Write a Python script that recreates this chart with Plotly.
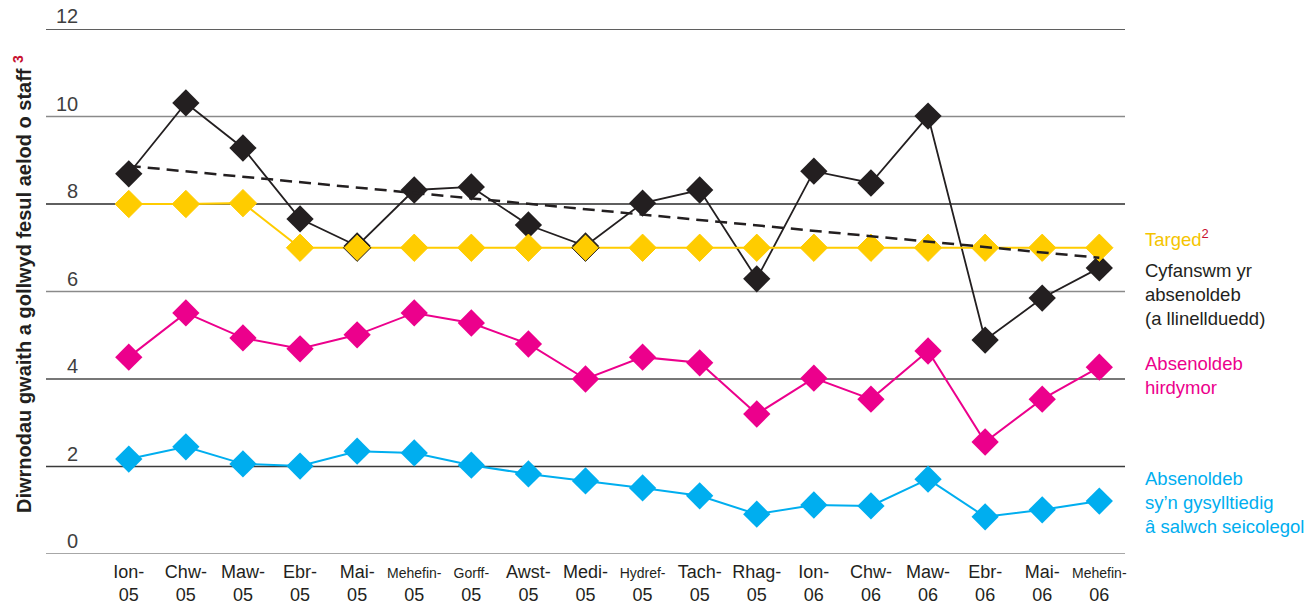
import plotly.graph_objects as go

months = ["Ion-", "Chw-", "Maw-", "Ebr-", "Mai-", "Mehefin-", "Gorff-", "Awst-", "Medi-",
          "Hydref-", "Tach-", "Rhag-", "Ion-", "Chw-", "Maw-", "Ebr-", "Mai-", "Mehefin-"]
years = ["05"] * 12 + ["06"] * 6
small_labels = {"Mehefin-", "Gorff-", "Hydref-"}

total = [8.69, 10.31, 9.28, 7.66, 7.04, 8.32, 8.39, 7.52, 7.04, 8.02, 8.32, 6.29,
         8.75, 8.48, 10.01, 4.89, 5.85, 6.54]
target = [8.0, 8.0, 8.02, 7.0, 7.0, 7.0, 7.0, 7.0, 7.0, 7.0, 7.0, 7.0,
          7.0, 7.0, 7.0, 7.0, 7.0, 7.0]
long_term = [4.50, 5.51, 4.94, 4.69, 5.01, 5.51, 5.28, 4.80, 4.00, 4.50, 4.37, 3.20,
             4.02, 3.54, 4.64, 2.56, 3.54, 4.27]
psych = [2.17, 2.45, 2.06, 2.01, 2.35, 2.31, 2.03, 1.83, 1.67, 1.51, 1.33, 0.91,
         1.12, 1.10, 1.71, 0.85, 1.01, 1.21]
trend_ends = [8.87, 6.77]

y_ticks = [0, 2, 4, 6, 8, 10, 12]
grid_colors = ["#8a8a8a", "#3a3a3a", "#4a4a4a", "#8a8a8a", "#2a2a2a", "#8a8a8a", "#2a2a2a"]

x = list(range(len(months)))
ticktext = []
for m, yv in zip(months, years):
    if m in small_labels:
        ticktext.append(f"<span style='font-size:14px'>{m}</span><br>{yv}")
    else:
        ticktext.append(f"{m}<br>{yv}")

BLACK = "#231f20"
YELLOW = "#ffcc00"
MAGENTA = "#ec008c"
CYAN = "#00aeef"
RED = "#c8102e"
FONT = "Liberation Sans"

fig = go.Figure()

fig.add_trace(go.Scatter(x=x, y=psych, mode="lines+markers",
                         line=dict(color=CYAN, width=2),
                         marker=dict(symbol="diamond", size=21, color=CYAN)))
fig.add_trace(go.Scatter(x=x, y=long_term, mode="lines+markers",
                         line=dict(color=MAGENTA, width=2),
                         marker=dict(symbol="diamond", size=21, color=MAGENTA)))
fig.add_trace(go.Scatter(x=x, y=total, mode="lines+markers",
                         line=dict(color=BLACK, width=1.8),
                         marker=dict(symbol="diamond", size=21, color=BLACK)))
outline = [BLACK if abs(t - v) < 0.1 else YELLOW for t, v in zip(target, total)]
fig.add_trace(go.Scatter(x=x, y=target, mode="lines+markers",
                         line=dict(color=YELLOW, width=2),
                         marker=dict(symbol="diamond", size=21, color=YELLOW,
                                     line=dict(color=outline, width=1))))
fig.add_trace(go.Scatter(x=[x[0], x[-1]], y=trend_ends, mode="lines",
                         line=dict(color=BLACK, width=2.5, dash="12px,7px")))

for yt, gc in zip(y_ticks, grid_colors):
    fig.add_shape(type="line", xref="paper", yref="y", x0=0, x1=1, y0=yt, y1=yt,
                  line=dict(color=gc, width=1.3), layer="below")
    fig.add_annotation(xref="paper", yref="y", x=(80 - 46) / 1079, y=yt, text=str(yt),
                       showarrow=False, xanchor="right", yanchor="bottom", yshift=0,
                       font=dict(family=FONT, size=20, color="#3f3f3f"))

fig.add_annotation(xref="paper", yref="paper", x=(22 - 46) / 1079, y=(554 - 284) / 525,
                   text=f"Diwrnodau gwaith a gollwyd fesul aelod o staff <sup><span style='color:{RED}'>3</span></sup>",
                   textangle=-90, showarrow=False, xanchor="center", yanchor="middle",
                   font=dict(family=FONT, size=20, color=BLACK, weight="bold"))

fig.add_annotation(xref="paper", yref="paper", x=1.017, y=(554 - 238) / 525,
                   text=f"Targed<sup><span style='color:{RED}'>2</span></sup>",
                   showarrow=False, xanchor="left", yanchor="middle", align="left",
                   font=dict(family=FONT, size=18.5, color="#f5c400"))
fig.add_annotation(xref="paper", yref="paper", x=1.017, y=(554 - 294) / 525,
                   text="Cyfanswm yr<br>absenoldeb<br>(a llinellduedd)",
                   showarrow=False, xanchor="left", yanchor="middle", align="left",
                   font=dict(family=FONT, size=18.5, color=BLACK))
fig.add_annotation(xref="paper", yref="paper", x=1.017, y=(554 - 375) / 525,
                   text="Absenoldeb<br>hirdymor",
                   showarrow=False, xanchor="left", yanchor="middle", align="left",
                   font=dict(family=FONT, size=18.5, color=MAGENTA))
fig.add_annotation(xref="paper", yref="paper", x=1.017, y=(554 - 502) / 525,
                   text="Absenoldeb<br>sy’n gysylltiedig<br>â salwch seicolegol",
                   showarrow=False, xanchor="left", yanchor="middle", align="left",
                   font=dict(family=FONT, size=18.5, color=CYAN))

fig.update_layout(
    width=1315, height=606,
    margin=dict(l=46, r=190, t=29, b=52),
    paper_bgcolor="white", plot_bgcolor="white",
    showlegend=False,
    xaxis=dict(range=[-1.45, 17.45], tickvals=x, ticktext=ticktext,
               showgrid=False, zeroline=False, showline=False, ticks="",
               ticklabelstandoff=5, automargin=False,
               tickfont=dict(family=FONT, size=18, color=BLACK)),
    yaxis=dict(range=[0, 12], showgrid=False, zeroline=False, showline=False,
               showticklabels=False, ticks="", automargin=False),
)

fig.write_html("out.html")
